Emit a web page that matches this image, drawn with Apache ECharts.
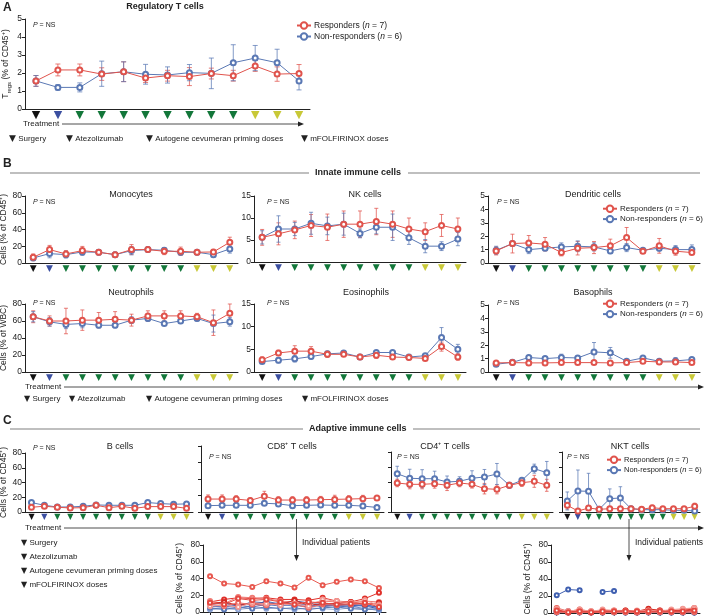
<!DOCTYPE html>
<html><head><meta charset="utf-8">
<script src="https://cdn.jsdelivr.net/npm/echarts@6/dist/echarts.min.js"></script>
<style>html,body{margin:0;padding:0;background:#fff}#c{width:706px;height:616px}</style>
</head><body><div id="c"></div>
<script>
// ---------------- DATA ----------------
const visits = ['V1','V2','V3','V4','V5','V6','V7','V8','V9','V10','V11','V12','V13'];
const treatment = ['surgery','atezo','prime','prime','prime','prime','prime','prime','prime','prime','mfolf','mfolf','mfolf'];
const treatmentNames = ['Surgery','Atezolizumab','Autogene cevumeran priming doses','mFOLFIRINOX doses'];
const treatmentKeys = ['surgery','atezo','prime','mfolf'];
const RESP = 'Responders (n = 7)';
const NON = 'Non-responders (n = 6)';

// Panel A: Regulatory T cells
const tregResp    = [1.56, 2.17, 2.17, 1.94, 2.07, 1.72, 1.85, 1.80, 1.97, 1.85, 2.39, 1.94, 1.97];
const tregRespErr = [0.30, 0.33, 0.33, 0.35, 0.55, 0.25, 0.30, 0.50, 0.30, 0.30, 0.30, 0.40, 0.50];
const tregNon     = [1.56, 1.20, 1.20, 1.96, 2.07, 1.93, 1.89, 2.02, 1.98, 2.57, 2.83, 2.57, 1.56];
const tregNonErr  = [0.30, 0.15, 0.25, 0.70, 0.55, 0.55, 0.45, 0.45, 0.85, 1.00, 0.70, 0.75, 0.50];

// Panel B: innate
const monoResp    = [6.8, 16, 10.8, 14.8, 12.8, 10, 16, 16, 14, 14, 12.8, 13.2, 24.8];
const monoRespErr = [4, 5, 4, 5, 3, 3, 6, 3, 4, 5, 3, 3, 6];
const monoNon     = [6, 11.2, 10, 13.2, 12.8, 10, 14.8, 16, 15.2, 12.8, 12.8, 10, 16.8];
const monoNonErr  = [3, 5, 4, 4, 3, 2, 5, 2, 3, 3, 2, 3, 5];

const nkResp    = [5.6, 6.4, 7.3, 8.3, 7.9, 8.6, 8.6, 9.2, 8.6, 7.5, 6.9, 8.3, 7.5];
const nkRespErr = [1.8, 2.5, 2, 2.5, 3, 3, 3, 3, 3, 2.5, 2, 2.5, 2.5];
const nkNon     = [5.6, 7.5, 7.5, 8.8, 8.2, 8.6, 6.5, 7.9, 7.9, 5.5, 3.6, 3.6, 5.2];
const nkNonErr  = [1.5, 3, 1.5, 2.5, 2, 2.5, 1, 1.5, 3, 1.5, 1.5, 1, 1.5];

const dcResp    = [0.9, 1.45, 1.5, 1.4, 0.78, 1.1, 1.15, 1.28, 1.9, 0.88, 1.28, 0.88, 0.78];
const dcRespErr = [0.3, 0.7, 0.55, 0.5, 0.25, 0.5, 0.45, 0.5, 0.75, 0.15, 0.55, 0.3, 0.15];
const dcNon     = [0.95, 1.45, 1.0, 1.1, 1.2, 1.25, 1.2, 0.9, 1.15, 0.95, 1.1, 1.0, 1.0];
const dcNonErr  = [0.3, 0.15, 0.3, 0.15, 0.3, 0.4, 0.3, 0.2, 0.3, 0.1, 0.2, 0.3, 0.35];

const neutResp    = [65, 60, 60, 61, 61, 62, 61, 66, 66, 66, 65, 58, 69];
const neutRespErr = [7, 6, 15, 12, 9, 9, 7, 6, 6, 6, 4, 15, 11];
const neutNon     = [65, 59, 56, 57, 55, 55, 61, 63, 57, 60, 63, 57, 59];
const neutNonErr  = [6, 5, 5, 5, 3, 3, 4, 3, 2, 3, 3, 10, 5];

const eosResp    = [2.7, 4.2, 4.6, 4.6, 3.9, 3.9, 3.3, 3.7, 3.3, 3.2, 3.0, 5.6, 3.3];
const eosRespErr = [0.6, 0.6, 1.2, 1.0, 0.7, 0.5, 0.3, 0.7, 0.5, 0.4, 0.4, 1.0, 0.7];
const eosNon     = [2.3, 2.6, 2.9, 3.4, 4.0, 4.2, 3.3, 4.3, 4.3, 3.3, 3.6, 7.6, 5.0];
const eosNonErr  = [0.4, 0.6, 0.7, 0.5, 0.5, 0.5, 0.3, 0.3, 0.3, 0.4, 0.3, 2.2, 1.1];

const basoResp    = [0.68, 0.7, 0.68, 0.68, 0.7, 0.7, 0.7, 0.68, 0.7, 0.8, 0.75, 0.75, 0.7];
const basoRespErr = [0.1, 0.08, 0.08, 0.08, 0.1, 0.1, 0.1, 0.08, 0.1, 0.12, 0.1, 0.12, 0.12];
const basoNon     = [0.58, 0.72, 1.08, 1.0, 1.08, 1.05, 1.5, 1.43, 0.8, 1.05, 0.8, 0.83, 0.93];
const basoNonErr  = [0.1, 0.05, 0.1, 0.05, 0.25, 0.15, 0.7, 0.4, 0.05, 0.1, 0.1, 0.25, 0.15];

// Panel C: adaptive
const bcellResp    = [6.4, 7.8, 6.4, 5.5, 5.9, 9.1, 5.9, 7.8, 5.0, 7.3, 7.3, 7.3, 5.0];
const bcellRespErr = [2, 2, 2, 2, 2, 2, 2, 2, 2, 2, 2, 2, 2];
const bcellNon     = [12.8, 9.1, 6.8, 6.8, 7.8, 9.6, 9.1, 9.1, 9.1, 12.8, 11.4, 10.5, 11.0];
const bcellNonErr  = [2, 2, 1.5, 1.5, 1.5, 1.5, 1.5, 1.5, 1.5, 2, 2, 2, 2];

const cd8Resp    = [15.7, 15.7, 15.7, 14, 19.1, 14.5, 14.5, 14.5, 14.9, 15.3, 15.7, 16.2, 17];
const cd8RespErr = [5, 5, 4, 3, 6, 4, 4, 4, 4, 5, 4, 4, 3];
const cd8Non     = [7.7, 8.1, 8.1, 8.1, 10.6, 9.8, 7.7, 8.1, 8.5, 8.1, 8.1, 7.2, 5.5];
const cd8NonErr  = [1.5, 1.5, 1.5, 1, 2, 2, 1.5, 1.5, 1.5, 1.5, 1.5, 1.5, 1.5];

const cd4Resp    = [38.7, 36.9, 36.9, 37.8, 35.6, 38.7, 36.9, 31.1, 30.2, 35.6, 39.1, 40.9, 35.6];
const cd4RespErr = [5, 6, 6, 6, 7, 5, 5, 7, 6, 4, 5, 8, 8];
const cd4Non     = [51, 45, 44.4, 44.4, 40, 41, 45, 46.7, 50.7, 35.6, 42.2, 57.8, 52.4];
const cd4NonErr  = [10, 12, 12, 10, 8, 6, 10, 10, 14, 3, 3, 6, 15];

const nktResp    = [8.9, 1.3, 5.3, 3.6, 4.4, 4.4, 4.4, 3.6, 5.8, 4.4, 4.4, 4.4, 7.6];
const nktRespErr = [5, 1, 3, 1, 3, 2, 2, 1, 3, 2, 2, 2, 4];
const nktNon     = [14.7, 28, 27.6, 3.6, 17.8, 18.7, 4.4, 3.1, 3.1, 3.1, 2.2, 2.2, 1.3];
const nktNonErr  = [12, 28, 24, 2, 13, 15, 2, 1, 2, 2, 1, 1, 1];

// Individual patients, CD8+ T cells
const cd8IndivResp = [
  [42.8, 34, 32.8, 30, 36.8, 34, 29.2, 40.8, 32, 36, 38.8, 36.8, 28.8],
  [12, 15, 17, 16, 17, 15, 15, 14, 17, 13, 12, 16, 23],
  [13, 10, 18, 17, 16, 13, 12, 10, 13, 12, 11, 13, 12],
  [10, 12, 8, 10, 10, 9, 14, 8, 10, 10, 12, 9, 11],
  [9, 7, 11, 9, 8, 11, 9, 5, 9, 8, 9, 10, 9],
  [7, 8, 6, 11, 10, 8, 10, 7, 15, 13, 11, 14, 8],
  [11, 9, 16, 14, 15, 12, 9, 12, 11, 9, 10, 11, 6]
];
const cd8IndivNon = [
  [6, 8, 9, 10, 7, 12, 8, 6, 9, 10, 8, 7, 4],
  [4, 5, 4, 8, 13, 9, 7, 9, 6, 8, 7, 4, 2],
  [9, 11, 7, 12, 11, 10, 13, 11, 8, 8, 9, 8, 6],
  [3, 4, 3, 5, 4, 5, 3, 5, 4, 3, 5, 4, 3],
  [7, 6, 8, 6, 9, 7, 10, 8, 10, 7, 6, 9, 5],
  [5, 3, 6, 4, 6, 4, 5, 3, 5, 6, 4, 3, 4]
];
// Individual patients, NKT cells
const nktIndivResp = [
  [6, 2, 4, 2, 3, 3, 3, 2, 4, 3, 3, 4, 6],
  [4, 1, 3, 1, 2, 2, 2, 1, 2, 2, 2, 3, 5],
  [2, 0.5, 1, 1, 1, 1, 1, 1, 1, 1, 1, 1, 2],
  [3, 1, 2, 1, 1, 2, 3, 2, 5, 3, 3, 2, 4],
  [1, 0.5, 1, 0.5, 1, 1, 1, 0.5, 1, 1, 1, 1, 1],
  [5, 2, 4, 2, 4, 3, 2, 3, 3, 2, 4, 5, 6],
  [3, 1, 2, 1, 2, 2, 2, 2, 2, 2, 2, 2, 3]
];
const nktIndivNon = [
  [20.9, 27.6, 26.8, null, 24.8, 26, null, null, null, null, null, null, null],
  [1, 1, 1, 0.5, 1, 1, 1, 0.5, 1, 1, 0.5, 0.5, 0.5],
  [2, 1, 2, 1, 1, 2, 1, 1, 1, 1, 1, 1, 1],
  [0.5, 0.5, 0.5, 0.5, 0.5, 0.5, 0.5, 0.5, 0.5, 0.5, 0.5, 0.5, 0.5],
  [1.5, 2, 1, 1, 2, 1.5, 1, 1, 1, 1, 1, 1, 1],
  [1, 0.5, 1, 1, 0.5, 1, 0.5, 1, 1, 0.5, 1, 1, 0.5]
];

// ---------------- STYLE / LAYOUT ----------------
const FONT = 'Liberation Sans, Arial, sans-serif';
const RED = '#e0534c', BLUE = '#5a78b4';
const RED_E = 'rgba(224,83,76,0.75)', BLUE_E = 'rgba(90,120,180,0.75)';
const TRI = {surgery:'#111111', atezo:'#3b4fa0', prime:'#13773a', mfolf:'#c8c837'};
const redShades = ['#e8584f','#e0302a','#f07a74','#d42a22','#ee6a62','#f39a94','#e44840'];
const blueShades = ['#3f5fb0','#6a86c4','#2c4aa0','#8ea4d4','#4f6fbc','#5a78b4'];

const layout = {
  treg:  {left:25,  top:19,  width:285, height:90,  tri:11, cap:2.5},
  mono:  {left:25,  top:196, width:213, height:67,  tri:9,  cap:2},
  nk:    {left:254, top:196, width:212, height:66,  tri:9,  cap:2},
  dc:    {left:488, top:196, width:212, height:67,  tri:9,  cap:2},
  neut:  {left:25,  top:304, width:213, height:68,  tri:9,  cap:2},
  eos:   {left:254, top:304, width:212, height:68,  tri:9,  cap:2},
  baso:  {left:488, top:305, width:212, height:67,  tri:9,  cap:2},
  bcell: {left:25,  top:453, width:168, height:59,  tri:8,  cap:1.8},
  cd8:   {left:201, top:446, width:183, height:66,  tri:8,  cap:1.8},
  cd4:   {left:391, top:452, width:162, height:60,  tri:8,  cap:1.8},
  nkt:   {left:562, top:452, width:138, height:60,  tri:8,  cap:1.8},
  cd8i:  {left:203, top:545, width:183, height:67},
  nkti:  {left:551, top:545, width:149, height:68}
};

const option = {
  animation:false,
  textStyle:{fontFamily:FONT},
  grid:[], xAxis:[], yAxis:[], series:[], legend:[], graphic:[]
};

function triRich(size){
  const r = {};
  for (const k of treatmentKeys) r[k] = {color:TRI[k], fontSize:size, fontFamily:'DejaVu Sans', lineHeight:size};
  return r;
}

function errRender(cap){
  return function(params, api){
    const x = api.value(0);
    const lo = api.coord([x, api.value(1)]);
    const hi = api.coord([x, api.value(2)]);
    const st = {stroke: api.visual('color'), lineWidth: 1};
    return {type:'group', children:[
      {type:'line', shape:{x1:lo[0], y1:lo[1], x2:hi[0], y2:hi[1]}, style:st},
      {type:'line', shape:{x1:lo[0]-cap, y1:lo[1], x2:lo[0]+cap, y2:lo[1]}, style:st},
      {type:'line', shape:{x1:hi[0]-cap, y1:hi[1], x2:hi[0]+cap, y2:hi[1]}, style:st}
    ]};
  };
}

const axisLineStyle = {lineStyle:{color:'#222', width:1}};

function addAxes(key, yMax, yInt, opts){
  const L = layout[key];
  const gi = option.grid.length;
  option.grid.push({left:L.left, top:L.top, width:L.width, height:L.height, containLabel:false, outerBoundsMode:'none'});
  option.xAxis.push({
    type:'category', gridIndex:gi, data:visits, boundaryGap:true,
    axisLine:{show:true, ...axisLineStyle},
    axisTick: opts.indiv ? {show:true, interval:0, alignWithLabel:true, length:3, lineStyle:{color:'#222'}} : {show:false},
    axisLabel: opts.indiv ? {show:false} : {
      show:true, interval:0, margin:1,
      formatter:(v, i) => '{' + treatment[i] + '|▼}',
      rich: triRich(L.tri)
    }
  });
  option.yAxis.push({
    type:'value', gridIndex:gi, min:0, max:yMax, interval:yInt,
    axisLine:{show:true, ...axisLineStyle},
    axisTick:{show:true, length:3, lineStyle:{color:'#222'}},
    splitLine:{show:false},
    axisLabel:{show: opts.labels !== false, fontSize:8.5, color:'#222', margin:3, fontFamily:FONT},
    name: opts.yName || '', nameLocation:'middle', nameRotate:90, nameGap: opts.nameGap || 17,
    nameTextStyle: opts.yRich ? {rich: opts.yRich, color:'#222'} : {fontSize:8.5, color:'#222', fontFamily:FONT}
  });
  return gi;
}

function addPanel(key, resp, respErr, non, nonErr, yMax, yInt, opts){
  opts = opts || {};
  const gi = addAxes(key, yMax, yInt, opts);
  const cap = layout[key].cap;
  const mk = (vals, errs) => vals.map((v, i) => [i, Math.max(0, v - errs[i]), v + errs[i]]);
  option.series.push(
    {type:'custom', name:'err-r-'+key, xAxisIndex:gi, yAxisIndex:gi, renderItem:errRender(cap),
     itemStyle:{color:RED_E}, encode:{x:0, y:[1,2]}, data:mk(resp, respErr), z:2, silent:true},
    {type:'custom', name:'err-b-'+key, xAxisIndex:gi, yAxisIndex:gi, renderItem:errRender(cap),
     itemStyle:{color:BLUE_E}, encode:{x:0, y:[1,2]}, data:mk(non, nonErr), z:2, silent:true},
    {type:'line', name:NON, xAxisIndex:gi, yAxisIndex:gi, data:non, symbol:'emptyCircle', symbolSize:5,
     lineStyle:{color:BLUE, width:1}, itemStyle:{color:BLUE, borderWidth:1}, z:3, silent:true},
    {type:'line', name:RESP, xAxisIndex:gi, yAxisIndex:gi, data:resp, symbol:'emptyCircle', symbolSize:5,
     lineStyle:{color:RED, width:1}, itemStyle:{color:RED, borderWidth:1}, z:4, silent:true}
  );
}

function addIndiv(key, respList, nonList){
  const gi = addAxes(key, 80, 20, {indiv:true, yName:'Cells (% of CD45⁺)', nameGap:19});
  nonList.forEach((d, i) => option.series.push({type:'line', name:'non-'+key+i, xAxisIndex:gi, yAxisIndex:gi, data:d,
    symbol:'emptyCircle', symbolSize:4, lineStyle:{color:blueShades[i], width:1}, itemStyle:{color:blueShades[i], borderWidth:1}, z:3, silent:true}));
  respList.forEach((d, i) => option.series.push({type:'line', name:'resp-'+key+i, xAxisIndex:gi, yAxisIndex:gi, data:d,
    symbol:'emptyCircle', symbolSize:4, lineStyle:{color:redShades[i], width:1}, itemStyle:{color:redShades[i], borderWidth:1}, z:4, silent:true}));
}

const tregRich = {
  t:{fontSize:8.5, fontFamily:FONT, color:'#222', lineHeight:12, verticalAlign:'middle'},
  s:{fontSize:6, fontFamily:FONT, color:'#222', lineHeight:6, verticalAlign:'bottom'},
  p:{fontSize:6, fontFamily:FONT, color:'#222', lineHeight:6, verticalAlign:'top'}
};

addPanel('treg', tregResp, tregRespErr, tregNon, tregNonErr, 5, 1,
  {yName:'{t|T}{s|regs}{t| (% of CD45}{p|+}{t|)}', yRich:tregRich, nameGap:13});
addPanel('mono', monoResp, monoRespErr, monoNon, monoNonErr, 80, 20, {yName:'Cells (% of CD45⁺)', nameGap:17});
addPanel('nk', nkResp, nkRespErr, nkNon, nkNonErr, 15, 5, {});
addPanel('dc', dcResp, dcRespErr, dcNon, dcNonErr, 5, 1, {});
addPanel('neut', neutResp, neutRespErr, neutNon, neutNonErr, 80, 20, {yName:'Cells (% of WBC)', nameGap:17});
addPanel('eos', eosResp, eosRespErr, eosNon, eosNonErr, 15, 5, {});
addPanel('baso', basoResp, basoRespErr, basoNon, basoNonErr, 5, 1, {});
addPanel('bcell', bcellResp, bcellRespErr, bcellNon, bcellNonErr, 80, 20, {yName:'Cells (% of CD45⁺)', nameGap:17});
addPanel('cd8', cd8Resp, cd8RespErr, cd8Non, cd8NonErr, 80, 20, {labels:false});
addPanel('cd4', cd4Resp, cd4RespErr, cd4Non, cd4NonErr, 80, 20, {labels:false});
addPanel('nkt', nktResp, nktRespErr, nktNon, nktNonErr, 80, 20, {labels:false});
addIndiv('cd8i', cd8IndivResp, cd8IndivNon);
addIndiv('nkti', nktIndivResp, nktIndivNon);

// legends
function legendAt(left, top, fs){
  option.legend.push({
    left, top, orient:'vertical', itemWidth:14, itemHeight:8, itemGap:2, padding:0,
    selectedMode:false, data:[RESP, NON],
    formatter: n => n.replace('(n', '({i|n}'),
    textStyle:{fontSize:fs, color:'#222', fontFamily:FONT, padding:[0,0,0,-2],
      rich:{i:{fontStyle:'italic', fontSize:fs, fontFamily:FONT, color:'#222'}}}
  });
}
legendAt(296, 21, 8.5);
legendAt(602, 204.5, 8);
legendAt(602, 299.5, 8);
legendAt(606, 455.5, 7.5);

// ---------------- ANNOTATIONS ----------------
const G = option.graphic;
function txt(x, y, text, fs, opt){
  opt = opt || {};
  G.push({type:'text', x, y, silent:true, z:10, style:{
    text, fontSize:fs, fontFamily:FONT, fontWeight:opt.bold ? 'bold' : 'normal', fill:'#222',
    align:opt.align || 'left', verticalAlign:'middle', textAlign:opt.align || 'left', textVerticalAlign:'middle',
    rich:opt.rich
  }});
}
function line(x1, y1, x2, y2, color, w){
  G.push({type:'line', silent:true, shape:{x1, y1, x2, y2}, style:{stroke:color, lineWidth:w}});
}
function poly(points, color){
  G.push({type:'polygon', silent:true, shape:{points}, style:{fill:color}});
}
const pRich = {i:{fontStyle:'italic', fontSize:7, fontFamily:FONT, fill:'#222', color:'#222'}, n:{fontSize:7, fontFamily:FONT, color:'#222'}};
function pns(x, y){ txt(x, y, '{i|P}{n| = NS}', 7, {rich:pRich}); }

// Panel letters
txt(3, 8, 'A', 12, {bold:true});
txt(3, 164, 'B', 12, {bold:true});
txt(3, 421, 'C', 12, {bold:true});

// Titles
txt(165, 7, 'Regulatory T cells', 9, {bold:true, align:'center'});
txt(131, 195, 'Monocytes', 9, {align:'center'});
txt(365, 195, 'NK cells', 9, {align:'center'});
txt(593, 195, 'Dendritic cells', 9, {align:'center'});
txt(131, 293, 'Neutrophils', 9, {align:'center'});
txt(366, 293, 'Eosinophils', 9, {align:'center'});
txt(593, 293, 'Basophils', 9, {align:'center'});
txt(120, 447, 'B cells', 9, {align:'center'});
txt(292, 447, 'CD8⁺ T cells', 9, {align:'center'});
txt(445, 447, 'CD4⁺ T cells', 9, {align:'center'});
txt(630, 447, 'NKT cells', 9, {align:'center'});

// P = NS
pns(33, 25);
pns(33, 202); pns(267, 202); pns(497, 202);
pns(33, 303); pns(267, 303); pns(497, 303);
pns(33, 448); pns(209, 457); pns(397, 457); pns(567, 457);

// Section headers
line(10, 173, 309, 173, '#aaaaaa', 1.5);
txt(315, 173, 'Innate immune cells', 9, {bold:true});
line(408, 173, 700, 173, '#aaaaaa', 1.5);
line(10, 429, 303, 429, '#aaaaaa', 1.5);
txt(309, 429, 'Adaptive immune cells', 9, {bold:true});
line(413, 429, 700, 429, '#aaaaaa', 1.5);

// Treatment arrows
function treatArrow(x0, y, xEnd){
  txt(x0, y, 'Treatment', 8);
  line(x0 + 39, y, xEnd - 4, y, '#222', 0.8);
  poly([[xEnd, y], [xEnd - 6, y - 2.5], [xEnd - 6, y + 2.5]], '#222');
}
treatArrow(23, 124, 304);
treatArrow(25, 387, 704);
treatArrow(25, 528, 704);

// Treatment legends
const triLegendRich = s => {
  const r = triRich(s);
  r.t = {fontSize:8, fontFamily:FONT, color:'#222'};
  return r;
};
function triLegend(x, y, k, label, size){
  txt(x, y, '{' + k + '|▼}{t| ' + label + '}', 8, {rich:triLegendRich(size)});
}
// A row
triLegend(9, 139, 'surgery', treatmentNames[0], 9);
triLegend(66, 139, 'atezo', treatmentNames[1], 9);
triLegend(146, 139, 'prime', treatmentNames[2], 9);
triLegend(301, 139, 'mfolf', treatmentNames[3], 9);
// B row
triLegend(24, 399, 'surgery', treatmentNames[0], 8);
triLegend(69, 399, 'atezo', treatmentNames[1], 8);
triLegend(146, 399, 'prime', treatmentNames[2], 8);
triLegend(302, 399, 'mfolf', treatmentNames[3], 8);
// C column
treatmentKeys.forEach((k, i) => triLegend(21, 543 + i * 14, k, treatmentNames[i], 8));

// Individual patients arrows
function indivArrow(x){
  line(x, 519, x, 556, '#222', 0.8);
  poly([[x, 561], [x - 2.5, 555], [x + 2.5, 555]], '#222');
}
indivArrow(296.5);
indivArrow(629);
txt(302, 543, 'Individual patients', 8.5);
txt(635, 543, 'Individual patients', 8.5);

const chart = echarts.init(document.getElementById('c'), null, {renderer:'canvas'});
chart.setOption(option);
</script></body></html>
